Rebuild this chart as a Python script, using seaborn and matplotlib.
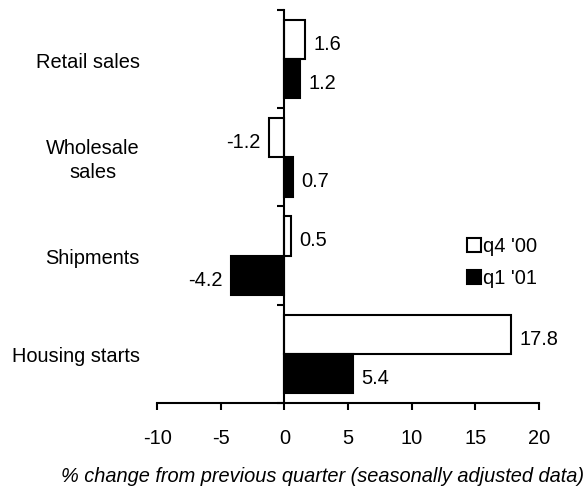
import matplotlib
matplotlib.use('Agg')
import matplotlib.pyplot as plt
import matplotlib.transforms as mtransforms
import pandas as pd
import seaborn as sns

categories = ['Retail sales', 'Wholesale\nsales', 'Shipments', 'Housing starts']
series = ["q4 '00", "q1 '01"]
q4_00 = [1.6, -1.2, 0.5, 17.8]
q1_01 = [1.2, 0.7, -4.2, 5.4]
x_ticks = [-10, -5, 0, 5, 10, 15, 20]

df = pd.DataFrame({
    'category': categories * 2,
    'series': [series[0]] * 4 + [series[1]] * 4,
    'value': q4_00 + q1_01,
})

sns.set_style('white')
plt.rcParams['font.family'] = ['Liberation Sans', 'DejaVu Sans']
plt.rcParams['text.color'] = 'black'
plt.rcParams['xtick.color'] = 'black'
plt.rcParams['ytick.color'] = 'black'
plt.rcParams['axes.labelcolor'] = 'black'
fs = 14.4

fig = plt.figure(figsize=(5.84, 4.87), dpi=100)
ax = fig.add_axes([0.269, 0.1725, 0.654, 0.807])

sns.barplot(data=df, y='category', x='value', hue='series', order=categories,
            hue_order=series, orient='h', palette={series[0]: 'white', series[1]: 'black'},
            edgecolor='black', linewidth=1.5, width=0.8, ax=ax)

for c in ax.containers:
    labels = ax.bar_label(c, fmt='%.1f', padding=6, fontsize=fs)
    for t in labels:
        t.xyann = (t.xyann[0], -3.5)

ax.set_xlim(-10, 20)
ax.set_ylim(3.5, -0.5)
ax.set_xticks(x_ticks)
ax.set_xticklabels([str(t) for t in x_ticks], fontsize=fs)
ax.set_yticks([-0.5, 0.5, 1.5, 2.5, 3.5])
ax.set_yticklabels([])
ax.tick_params(axis='x', direction='out', length=5, width=1.5, pad=14, bottom=True)
ax.tick_params(axis='y', direction='out', length=5, width=1.5, left=True)

for s in ['top', 'right']:
    ax.spines[s].set_visible(False)
ax.spines['left'].set_position(('data', 0))
ax.spines['left'].set_linewidth(1.5)
ax.spines['bottom'].set_linewidth(1.5)
ax.spines['left'].set_color('black')
ax.spines['bottom'].set_color('black')

trans = mtransforms.blended_transform_factory(ax.transAxes, ax.transData)
for i, cat in enumerate(categories):
    ax.text(-0.045, i + 0.03, cat, transform=trans, ha='right', va='center',
            multialignment='center', linespacing=1.35, fontsize=fs)

ax.set_ylabel('')
ax.set_xlabel('% change from previous quarter (seasonally adjusted data)',
              fontsize=fs, style='italic')
ax.xaxis.set_label_coords(0.432, -0.163)

ax.legend(loc='upper left', bbox_to_anchor=(0.812, 0.422), frameon=False,
          fontsize=fs, handlelength=0.7, handleheight=0.7, handletextpad=0.1,
          labelspacing=0.65, borderpad=0, borderaxespad=0)

fig.savefig('out.png', dpi=100)
